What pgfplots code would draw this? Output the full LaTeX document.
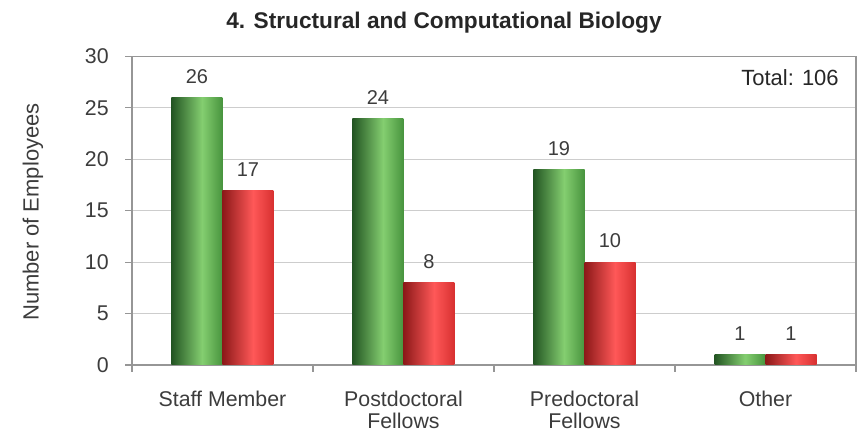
\documentclass[border=0pt]{standalone}
\usepackage{pgfplots}
\pgfplotsset{compat=1.18}
\usepackage{fontspec}
\setmainfont{Liberation Sans}
\definecolor{gdark}{RGB}{35,85,35}
\definecolor{glight}{RGB}{132,206,112}
\definecolor{gmid}{RGB}{72,148,62}
\definecolor{rdark}{RGB}{140,25,25}
\definecolor{rlight}{RGB}{255,88,88}
\definecolor{rmid}{RGB}{215,48,48}
\definecolor{axgray}{RGB}{150,150,150}
\definecolor{gridgray}{RGB}{205,205,205}
\definecolor{labgray}{RGB}{60,60,60}
\pgfdeclarehorizontalshading{greencyl}{100bp}{color(0bp)=(gdark); color(25bp)=(gdark); color(55bp)=(glight); color(75bp)=(gmid); color(100bp)=(gmid)}
\pgfdeclarehorizontalshading{redcyl}{100bp}{color(0bp)=(rdark); color(25bp)=(rdark); color(55bp)=(rlight); color(75bp)=(rmid); color(100bp)=(rmid)}
\pgfplotsset{
  gbar/.style={draw=none, shade, shading=greencyl, bar shift=-19.125pt},
  rbar/.style={draw=none, shade, shading=redcyl, bar shift=19.125pt},
}
\begin{document}
\begin{tikzpicture}
\begin{axis}[
  scale only axis, width=543pt, height=231.375pt,
  at={(0,0)}, anchor=south west,
  ybar, bar width=38.25pt,
  xmin=-0.5, xmax=3.5, ymin=0, ymax=30,
  xtick={-0.5,0.5,1.5,2.5,3.5},
  xticklabels={Staff Member,{Postdoctoral\\Fellows},{Predoctoral\\Fellows},Other},
  x tick label as interval,
  ytick={0,5,...,30},
  xtick pos=left, ytick pos=left,
  tick align=outside, major tick length=5pt,
  /pgf/number format/assume math mode=true,
  ymajorgrids, grid style={draw=gridgray, line width=0.8pt},
  axis line style={draw=axgray, line width=0.8pt},
  tick style={draw=axgray, line width=0.8pt},
  ticklabel style={font=\fontsize{16}{16.5}\selectfont, text=labgray},
  xticklabel style={align=center, yshift=-11pt},
  yticklabel style={xshift=-9pt},
  ylabel={Number of Employees},
  ylabel style={at={(rel axis cs:-0.1367,0.496)}, anchor=center, font=\fontsize{16.5}{17}\selectfont, text=labgray},
  nodes near coords,
  nodes near coords style={font=\fontsize{15}{15}\selectfont, text=labgray, yshift=7pt},
  clip=false,
]
\addplot[gbar] coordinates {(0,26)};
\addplot[gbar] coordinates {(1,24)};
\addplot[gbar] coordinates {(2,19)};
\addplot[gbar] coordinates {(3,1)};
\addplot[rbar] coordinates {(0,17)};
\addplot[rbar] coordinates {(1,8)};
\addplot[rbar] coordinates {(2,10)};
\addplot[rbar] coordinates {(3,1)};
\node[anchor=east, inner sep=0pt, font=\fontsize{16.5}{17}\selectfont, text=black!85] at (rel axis cs:0.9765,0.932) {Total: 106};
\node[anchor=base, inner sep=0pt, font=\bfseries\fontsize{17}{17}\selectfont, text=black!85] at (rel axis cs:0.431,1.0914) {4. Structural and Computational Biology};
\end{axis}
\pgfresetboundingbox
\useasboundingbox (-99pt,-52.5pt) rectangle (549.75pt,273.75pt);
\end{tikzpicture}
\end{document}
